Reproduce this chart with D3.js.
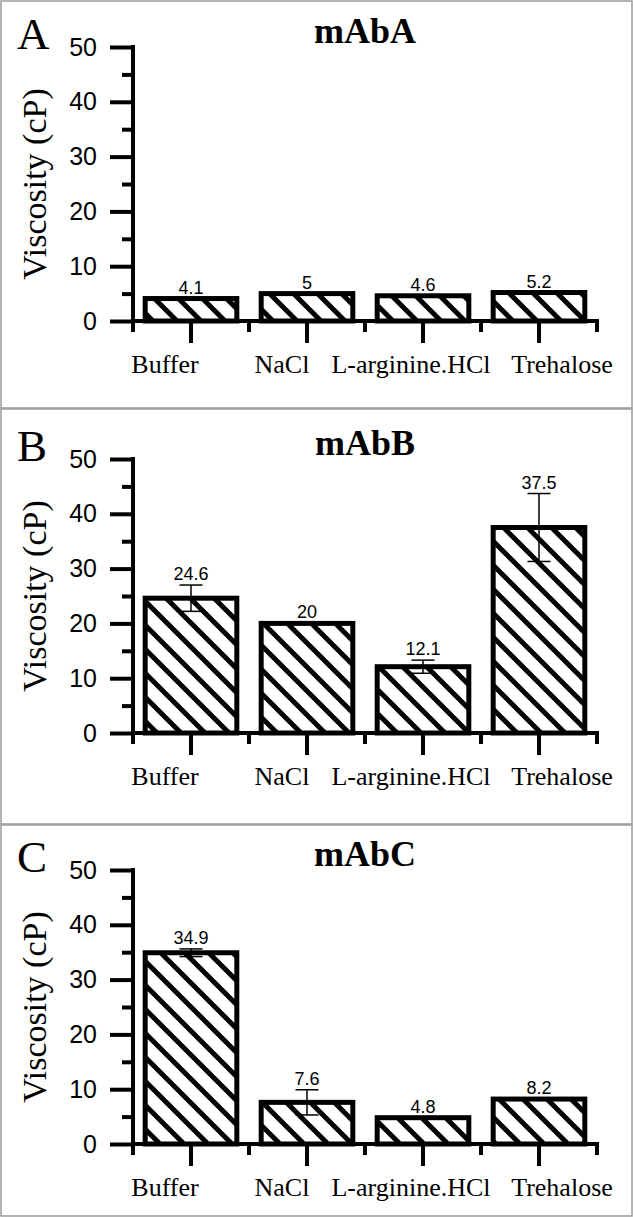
<!DOCTYPE html>
<html>
<head>
<meta charset="utf-8">
<script src="https://cdn.jsdelivr.net/npm/d3@7"></script>
<style>
  body { margin: 0; background: #fff; }
  svg { display: block; }
</style>
</head>
<body>
<div id="chart"></div>
<script>
// data
var categories = ["Buffer", "NaCl", "L-arginine.HCl", "Trehalose"];
var panelLetters = ["A", "B", "C"];
var panelTitles = ["mAbA", "mAbB", "mAbC"];
var mAbA = [4.1, 5, 4.6, 5.2];
var mAbA_err = [0, 0, 0, 0];
var mAbB = [24.6, 20, 12.1, 37.5];
var mAbB_err = [2.4, 0, 1.2, 6.2];
var mAbC = [34.9, 7.6, 4.8, 8.2];
var mAbC_err = [0.7, 2.3, 0, 0];
var yTicks = [0, 10, 20, 30, 40, 50];
var yMinorTicks = [5, 15, 25, 35, 45];

var values = [mAbA, mAbB, mAbC];
var errors = [mAbA_err, mAbB_err, mAbC_err];

// layout
var W = 633, H = 1217;
var panelTop = [0, 408, 824, 1216];   // frame lines
var plotTop = [47, 459, 870];
var plotH = 274;
var x0 = 133, x1 = 597;
var labelShift = [-26, -25, -12, 23];

var svg = d3.select('#chart').append('svg')
    .attr('width', W)
    .attr('height', H);

svg.append('rect').attr('width', W).attr('height', H).attr('fill', '#fff');

// hatch pattern
var defs = svg.append('defs');
var pat = defs.append('pattern')
    .attr('id', 'hatch')
    .attr('patternUnits', 'userSpaceOnUse')
    .attr('width', 24)
    .attr('height', 24);
pat.append('rect').attr('width', 24).attr('height', 24).attr('fill', '#fff');
pat.append('path')
    .attr('d', 'M-6,-6 L30,30 M-6,18 L6,30 M18,-6 L30,6')
    .attr('stroke', '#000')
    .attr('stroke-width', 5);

var x = d3.scaleBand()
    .domain(categories)
    .range([x0, x1])
    .paddingInner(0.21)
    .paddingOuter(0.105);

// category boundaries for the short ticks
var step = (x1 - x0) / categories.length;
var bounds = d3.range(categories.length + 1).map(function(i) { return x0 + i * step; });

// frames
panelTop.slice(0, 3).forEach(function(t, i) {
    svg.append('rect')
        .attr('x', 1)
        .attr('y', t + 1)
        .attr('width', W - 2)
        .attr('height', panelTop[i + 1] - t - 1)
        .attr('fill', 'none')
        .attr('stroke', '#9a9a9a')
        .attr('stroke-width', 1.5);
});

values.forEach(function(vals, p) {
    var top = plotTop[p];
    var y = d3.scaleLinear().domain([0, 50]).range([top + plotH, top]);
    var g = svg.append('g');
    var y0 = y(0);

    // bars
    g.selectAll('rect.bar')
        .data(vals)
        .join('rect')
        .attr('class', 'bar')
        .attr('x', function(d, i) { return x(categories[i]); })
        .attr('y', function(d) { return y(d); })
        .attr('width', x.bandwidth())
        .attr('height', function(d) { return y0 - y(d); })
        .attr('fill', 'url(#hatch)')
        .attr('stroke', '#000')
        .attr('stroke-width', 5);

    // error bars
    var errs = errors[p];
    vals.forEach(function(v, i) {
        var e = errs[i];
        if (!e) return;
        var cx = x(categories[i]) + x.bandwidth() / 2;
        var eg = g.append('g').attr('stroke', '#000').attr('stroke-width', 1.5);
        eg.append('line').attr('x1', cx).attr('x2', cx).attr('y1', y(v - e)).attr('y2', y(v + e));
        eg.append('line').attr('x1', cx - 11.5).attr('x2', cx + 11.5).attr('y1', y(v + e)).attr('y2', y(v + e));
        eg.append('line').attr('x1', cx - 11.5).attr('x2', cx + 11.5).attr('y1', y(v - e)).attr('y2', y(v - e));
    });

    // value labels
    g.selectAll('text.val')
        .data(vals)
        .join('text')
        .attr('class', 'val')
        .attr('x', function(d, i) { return x(categories[i]) + x.bandwidth() / 2; })
        .attr('y', function(d, i) { return y(d + errs[i]) - 5; })
        .attr('text-anchor', 'middle')
        .attr('font-family', 'Liberation Sans, Arial, sans-serif')
        .attr('font-size', 18)
        .text(function(d) { return String(d); });

    // y axis
    var yAxis = d3.axisLeft(y).tickValues(yTicks).tickSize(23).tickPadding(13).tickSizeOuter(0);
    var ya = g.append('g').attr('transform', 'translate(' + x0 + ',0)').call(yAxis);
    ya.select('.domain').attr('stroke-width', 4).attr('d', 'M0,' + (top - 2) + 'V' + (y0 + 11));
    ya.selectAll('.tick line').attr('stroke-width', 4);
    ya.selectAll('.tick text')
        .attr('font-family', 'Liberation Sans, Arial, sans-serif')
        .attr('font-size', 25);
    var yMinor = d3.axisLeft(y).tickValues(yMinorTicks).tickSize(11).tickFormat('').tickSizeOuter(0);
    var ym = g.append('g').attr('transform', 'translate(' + x0 + ',0)').call(yMinor);
    ym.select('.domain').remove();
    ym.selectAll('.tick line').attr('stroke-width', 4);

    // x axis line
    g.append('line')
        .attr('x1', x0).attr('x2', x1 + 2)
        .attr('y1', y0).attr('y2', y0)
        .attr('stroke', '#000').attr('stroke-width', 4);
    // boundary ticks
    g.selectAll('line.bt')
        .data(bounds)
        .join('line')
        .attr('class', 'bt')
        .attr('x1', function(d) { return d; }).attr('x2', function(d) { return d; })
        .attr('y1', y0).attr('y2', y0 + 11)
        .attr('stroke', '#000').attr('stroke-width', 4);
    // center ticks
    g.selectAll('line.ct')
        .data(categories)
        .join('line')
        .attr('class', 'ct')
        .attr('x1', function(d) { return x(d) + x.bandwidth() / 2; })
        .attr('x2', function(d) { return x(d) + x.bandwidth() / 2; })
        .attr('y1', y0).attr('y2', y0 + 22)
        .attr('stroke', '#000').attr('stroke-width', 4);
    // category labels
    g.selectAll('text.cat')
        .data(categories)
        .join('text')
        .attr('class', 'cat')
        .attr('x', function(d, i) { return x(d) + x.bandwidth() / 2 + labelShift[i]; })
        .attr('y', y0 + 52)
        .attr('text-anchor', 'middle')
        .attr('font-family', 'Liberation Serif, Times New Roman, serif')
        .attr('font-size', 26)
        .text(function(d) { return d; });

    // axis title
    g.append('text')
        .attr('transform', 'translate(46,' + (top + plotH / 2) + ') rotate(-90)')
        .attr('text-anchor', 'middle')
        .attr('font-family', 'Liberation Serif, Times New Roman, serif')
        .attr('font-size', 34)
        .text('Viscosity (cP)');

    // panel letter and title
    g.append('text')
        .attr('x', 17)
        .attr('y', top + 2)
        .attr('font-family', 'Liberation Serif, Times New Roman, serif')
        .attr('font-size', 45)
        .text(panelLetters[p]);
    g.append('text')
        .attr('x', (x0 + x1) / 2)
        .attr('y', top - 4)
        .attr('text-anchor', 'middle')
        .attr('font-family', 'Liberation Serif, Times New Roman, serif')
        .attr('font-weight', 'bold')
        .attr('font-size', 36)
        .text(panelTitles[p]);
});
</script>
</body>
</html>
